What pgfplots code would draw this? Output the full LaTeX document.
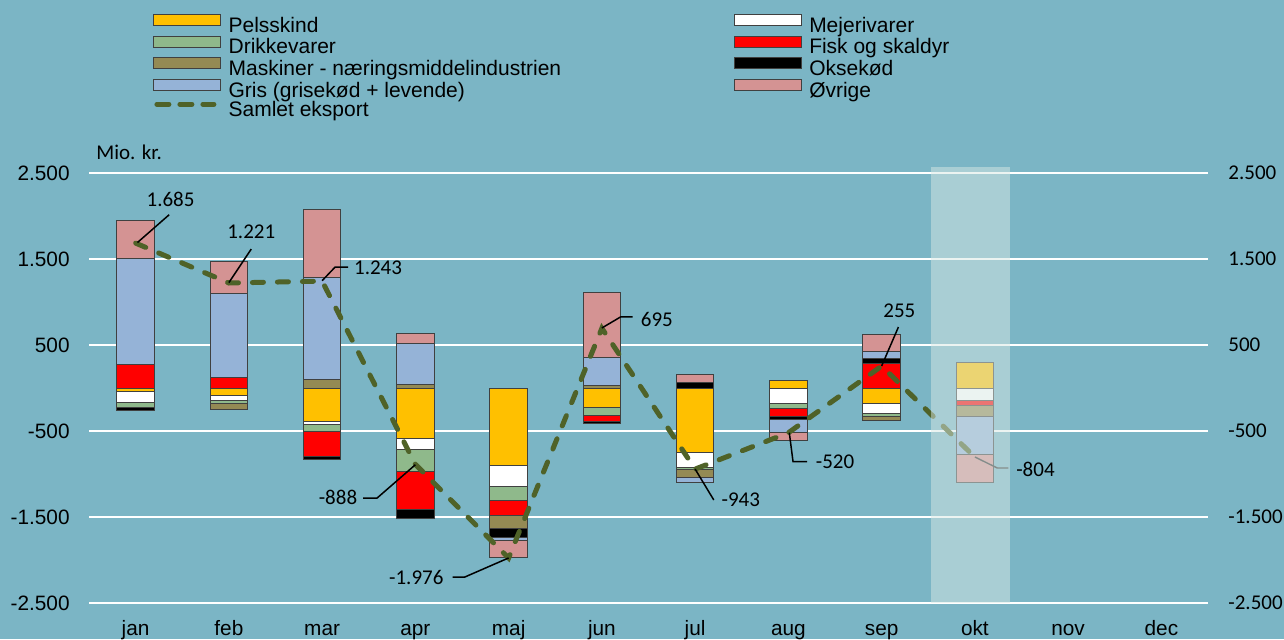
\documentclass[border=0pt]{standalone}
\usepackage{fontspec}
\setmainfont{Liberation Sans}
\newfontfamily\carlito{Carlito}
\usepackage{pgfplots}
\usepackage{pgfplotstable}
\pgfplotsset{compat=1.18}

\definecolor{bg}{RGB}{123,181,197}
\definecolor{pels}{RGB}{255,192,0}
\definecolor{drik}{RGB}{143,185,139}
\definecolor{mask}{RGB}{148,138,84}
\definecolor{gris}{RGB}{149,179,215}
\definecolor{ovr}{RGB}{212,147,147}
\definecolor{samlet}{RGB}{79,98,40}
\definecolor{hilite}{RGB}{216,232,228}

% positive parts, stacked up from 0 (x: 0=jan ... 9=okt)
\pgfplotstableread{
x pels mejeri drikke fisk maskiner okse gris ovrige
0 0   0 0 275 0   0  1235 440
1 0   0 0 120 0   0  977  370
2 0   0 0 0   100 0  1190 782
3 0   0 0 0   45  0  475  115
4 0   0 0 0   0   0  0    0
5 0   0 0 0   30  0  323  752
6 0   0 0 0   0   60 0    97
7 85  0 0 0   0   0  0    0
8 0   0 0 287 0   58 85   197
9 295 0 0 0   0   0  0    0
}\postab
% negative parts, stacked down from 0
\pgfplotstableread{
x pels mejeri drikke fisk maskiner okse gris ovrige
0 -40  -125 -65  0    0    -35  0    0
1 -85  -55  -38  0    -68  0    0    0
2 -384 -46  -78  -290 0    -31  0    0
3 -590 -125 -260 -433 0    -115 0    0
4 -903 -245 -160 -170 -155 -100 -43  -200
5 -225 0    -90  -80  0    -15  0    0
6 -750 -175 -22  0    -93  0    -60  0
7 0    -178 -55  -100 0    -31  -151 -90
8 -178 -124 -30  0    -40  0    0    0
9 0    -140 0    -62  -131 0    -438 -328
}\negtab
\pgfplotstableread{
x y
0 1685
1 1221
2 1243
3 -888
4 -1976
5 695
6 -943
7 -520
8 255
9 -804
}\totaltab

\pgfplotsset{
  base/.style={
    scale only axis, width=559.5pt, height=215pt,
    at={(44.5pt,18pt)}, anchor=south west,
    xmin=-0.5, xmax=11.5, ymin=-2500, ymax=2500,
    axis line style={draw=none}, major tick length=0pt,
  },
  seg/.style={fill=#1, draw=black!75, line width=0.5pt},
  boxleg/.style={legend image code/.code={\draw[##1] (0pt,0.9pt) rectangle (33.5pt,6.4pt);}},
  lineleg/.style={legend image code/.code={\draw[##1, dash pattern=on 6pt off 5.5pt] (1.5pt,3.6pt) -- (30pt,3.6pt);}},
}

\begin{document}
\begin{tikzpicture}
\fill[bg] (0,0) rectangle (642pt,319.5pt);
\node[anchor=base west, inner sep=0pt, font=\carlito\fontsize{10.5}{12}\selectfont] at (48pt,240pt) {Mio. kr.};

% positives, grid, left and x tick labels
\begin{axis}[base, ybar stacked, bar width=0.4,
  ytick={-2500,-1500,...,2500},
  yticklabels={-2.500,-1.500,-500,500,1.500,2.500},
  ymajorgrids, grid style={white, line width=1.1pt},
  yticklabel style={inner sep=0pt, xshift=-9.5pt, font=\fontsize{10.4}{12}\selectfont},
  xtick={0,...,11},
  xticklabels={jan,feb,mar,apr,maj,jun,jul,aug,sep,okt,nov,dec},
  xticklabel style={anchor=base, inner sep=0pt, yshift=-16pt, font=\fontsize{10.4}{12}\selectfont},
]
\addplot[seg=pels] table[x=x,y=pels]{\postab};
\addplot[seg=white] table[x=x,y=mejeri]{\postab};
\addplot[seg=drik] table[x=x,y=drikke]{\postab};
\addplot[seg=red] table[x=x,y=fisk]{\postab};
\addplot[seg=mask] table[x=x,y=maskiner]{\postab};
\addplot[seg=black] table[x=x,y=okse]{\postab};
\addplot[seg=gris] table[x=x,y=gris]{\postab};
\addplot[seg=ovr] table[x=x,y=ovrige]{\postab};
\end{axis}

% negatives, right tick labels
\begin{axis}[base, ybar stacked, bar width=0.4,
  xtick=\empty,
  ytick={-2500,-1500,...,2500},
  yticklabels={-2.500,-1.500,-500,500,1.500,2.500},
  yticklabel pos=right,
  yticklabel style={inner sep=0pt, xshift=10pt, font=\carlito\fontsize{10.5}{12}\selectfont},
]
\addplot[seg=pels] table[x=x,y=pels]{\negtab};
\addplot[seg=white] table[x=x,y=mejeri]{\negtab};
\addplot[seg=drik] table[x=x,y=drikke]{\negtab};
\addplot[seg=red] table[x=x,y=fisk]{\negtab};
\addplot[seg=mask] table[x=x,y=maskiner]{\negtab};
\addplot[seg=black] table[x=x,y=okse]{\negtab};
\addplot[seg=gris] table[x=x,y=gris]{\negtab};
\addplot[seg=ovr] table[x=x,y=ovrige]{\negtab};
\end{axis}

% total line, highlight, labels, legend
\begin{axis}[base, xtick=\empty, ytick=\empty, clip=false,
  legend columns=2, legend cell align=left,
  legend style={at={(axis description cs:0.0572,1.371)}, anchor=north west,
    draw=none, fill=none, inner sep=0pt, row sep=-1.2pt,
    font=\fontsize{10.5}{12}\selectfont,
    nodes={inner sep=0.4pt, text height=7.5pt, text depth=2.5pt},
    /tikz/every odd column/.append style={column sep=3.2pt},
    /tikz/every even column/.append style={column sep=86pt}},
]
\addlegendimage{seg=pels, boxleg}\addlegendentry{Pelsskind}
\addlegendimage{seg=white, boxleg}\addlegendentry{Mejerivarer}
\addlegendimage{seg=drik, boxleg}\addlegendentry{Drikkevarer}
\addlegendimage{seg=red, boxleg}\addlegendentry{Fisk og skaldyr}
\addlegendimage{seg=mask, boxleg}\addlegendentry{Maskiner - næringsmiddelindustrien}
\addlegendimage{seg=black, boxleg}\addlegendentry{Oksekød}
\addlegendimage{seg=gris, boxleg}\addlegendentry{Gris (grisekød + levende)}
\addlegendimage{seg=ovr, boxleg}\addlegendentry{Øvrige}
\addplot[samlet, line width=2.5pt, dash pattern=on 5.5pt off 7pt, line cap=round, lineleg]
  table[x=x,y=y]{\totaltab};
\addlegendentry{Samlet eksport}

\draw[black!80, line width=0.7pt] (axis cs:9,-802) -- (axis cs:9.24,-930) -- (axis cs:9.36,-930);
\fill[hilite, fill opacity=0.5] (axis cs:8.53,-2500) rectangle (axis cs:9.38,2570);

\begin{scope}[every node/.style={inner sep=0pt, font=\carlito\fontsize{10.5}{12}\selectfont}]
\draw[line width=0.75pt] (axis cs:0.02,1692) -- (axis cs:0.36,2015);
\node at (axis cs:0.375,2198) {1.685};
\draw[line width=0.75pt] (axis cs:1,1225) -- (axis cs:1.24,1616);
\node at (axis cs:1.24,1814) {1.221};
\draw[line width=0.75pt] (axis cs:2,1248) -- (axis cs:2.14,1407) -- (axis cs:2.28,1407);
\node at (axis cs:2.6,1395) {1.243};
\draw[line width=0.75pt] (axis cs:3,-892) -- (axis cs:2.59,-1279) -- (axis cs:2.44,-1279);
\node at (axis cs:2.17,-1267) {-888};
\draw[line width=0.75pt] (axis cs:4,-1976) -- (axis cs:3.53,-2198) -- (axis cs:3.4,-2198);
\node at (axis cs:3.01,-2209) {-1.976};
\draw[line width=0.75pt] (axis cs:5,698) -- (axis cs:5.2,826) -- (axis cs:5.33,826);
\node at (axis cs:5.59,802) {695};
\draw[line width=0.75pt] (axis cs:6,-943) -- (axis cs:6.2,-1302);
\node at (axis cs:6.49,-1302) {-943};
\draw[line width=0.75pt] (axis cs:7.01,-520) -- (axis cs:7.05,-857) -- (axis cs:7.2,-857);
\node at (axis cs:7.5,-860) {-520};
\draw[line width=0.75pt] (axis cs:8,256) -- (axis cs:8.18,709);
\node at (axis cs:8.19,895) {255};
\node at (axis cs:9.65,-942) {-804};
\end{scope}
\end{axis}

\pgfresetboundingbox
\path[use as bounding box] (0,0) rectangle (642pt,319.5pt);
\end{tikzpicture}
\end{document}
